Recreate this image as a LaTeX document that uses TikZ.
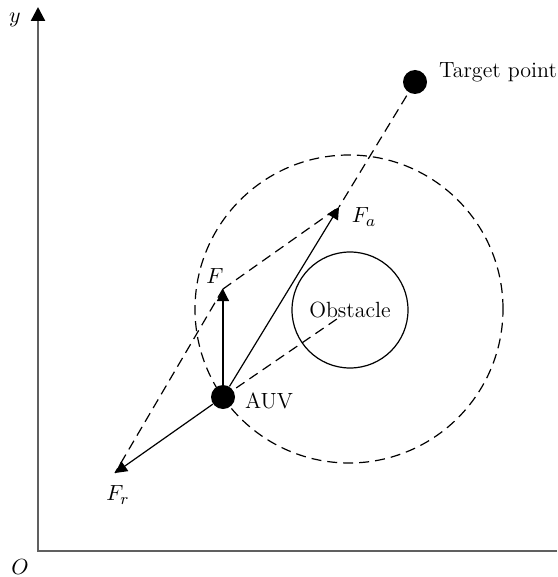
\documentclass[tikz,border=0pt]{standalone}
\usepackage{amsmath}
\usetikzlibrary{arrows.meta,calc}

\begin{document}
\begin{tikzpicture}[x=0.5pt, y=-0.5pt, font=\fontsize{11}{13}\selectfont,
  axis/.style={gray!75!black, line width=1.2pt},
  vec/.style={-{Triangle[length=6pt,width=6pt]}, line width=0.6pt},
  guide/.style={dash pattern=on 5pt off 3pt, line width=0.6pt},
  dot/.style={circle, fill=black, inner sep=0pt, minimum size=12pt}]
  \useasboundingbox (0,0) rectangle (557,577);
  % axes: the x axis runs off the right edge, only y has a head
  \coordinate (orig) at (38,551);
  \coordinate (xend) at (557,551);
  \coordinate (yend) at (38,7);
  \draw[axis, -{Triangle[length=7pt,width=7pt,color=black]}] (xend) -- (orig) -- (yend);
  \node (ylab) at (15,20) {$y$};
  \node (olab) at (20,567) {$O$};
  % obstacle and its influence range (same centre)
  \node[circle, draw, guide, inner sep=0pt, minimum size=154pt] (range) at (349,309) {};
  \node[circle, draw, line width=0.6pt, inner sep=0pt, minimum size=58pt] (obs) at (350,310) {Obstacle};
  % vehicle, target and the tips of the force vectors
  \coordinate (Fa) at (339,207);
  \coordinate (F) at (223,289);
  \coordinate (Fr) at (115,473);
  \draw[guide] (415,82) -- (Fa);
  \draw[guide] (223,397) -- ($(223,397)!0.93!(obs.center)$);
  \draw[guide] (F) -- (Fa);
  \draw[guide] (F) -- (Fr);
  \node[dot] (tgt) at (415,82) {};
  \node[dot] (auv) at (223,397) {};
  \draw[vec] (auv) -- (Fa);
  \draw[vec] (auv) -- (F);
  \draw[vec] (auv) -- (Fr);
  % labels
  \node[anchor=west] (tgtlab) at (432,72) {Target point};
  \node[anchor=west] (auvlab) at (238,401) {AUV};
  \node (Flab) at (215,276) {$F$};
  \node (Falab) at (364,217) {$F_a$};
  \node (Frlab) at (118,495) {$F_r$};
\end{tikzpicture}
\end{document}
